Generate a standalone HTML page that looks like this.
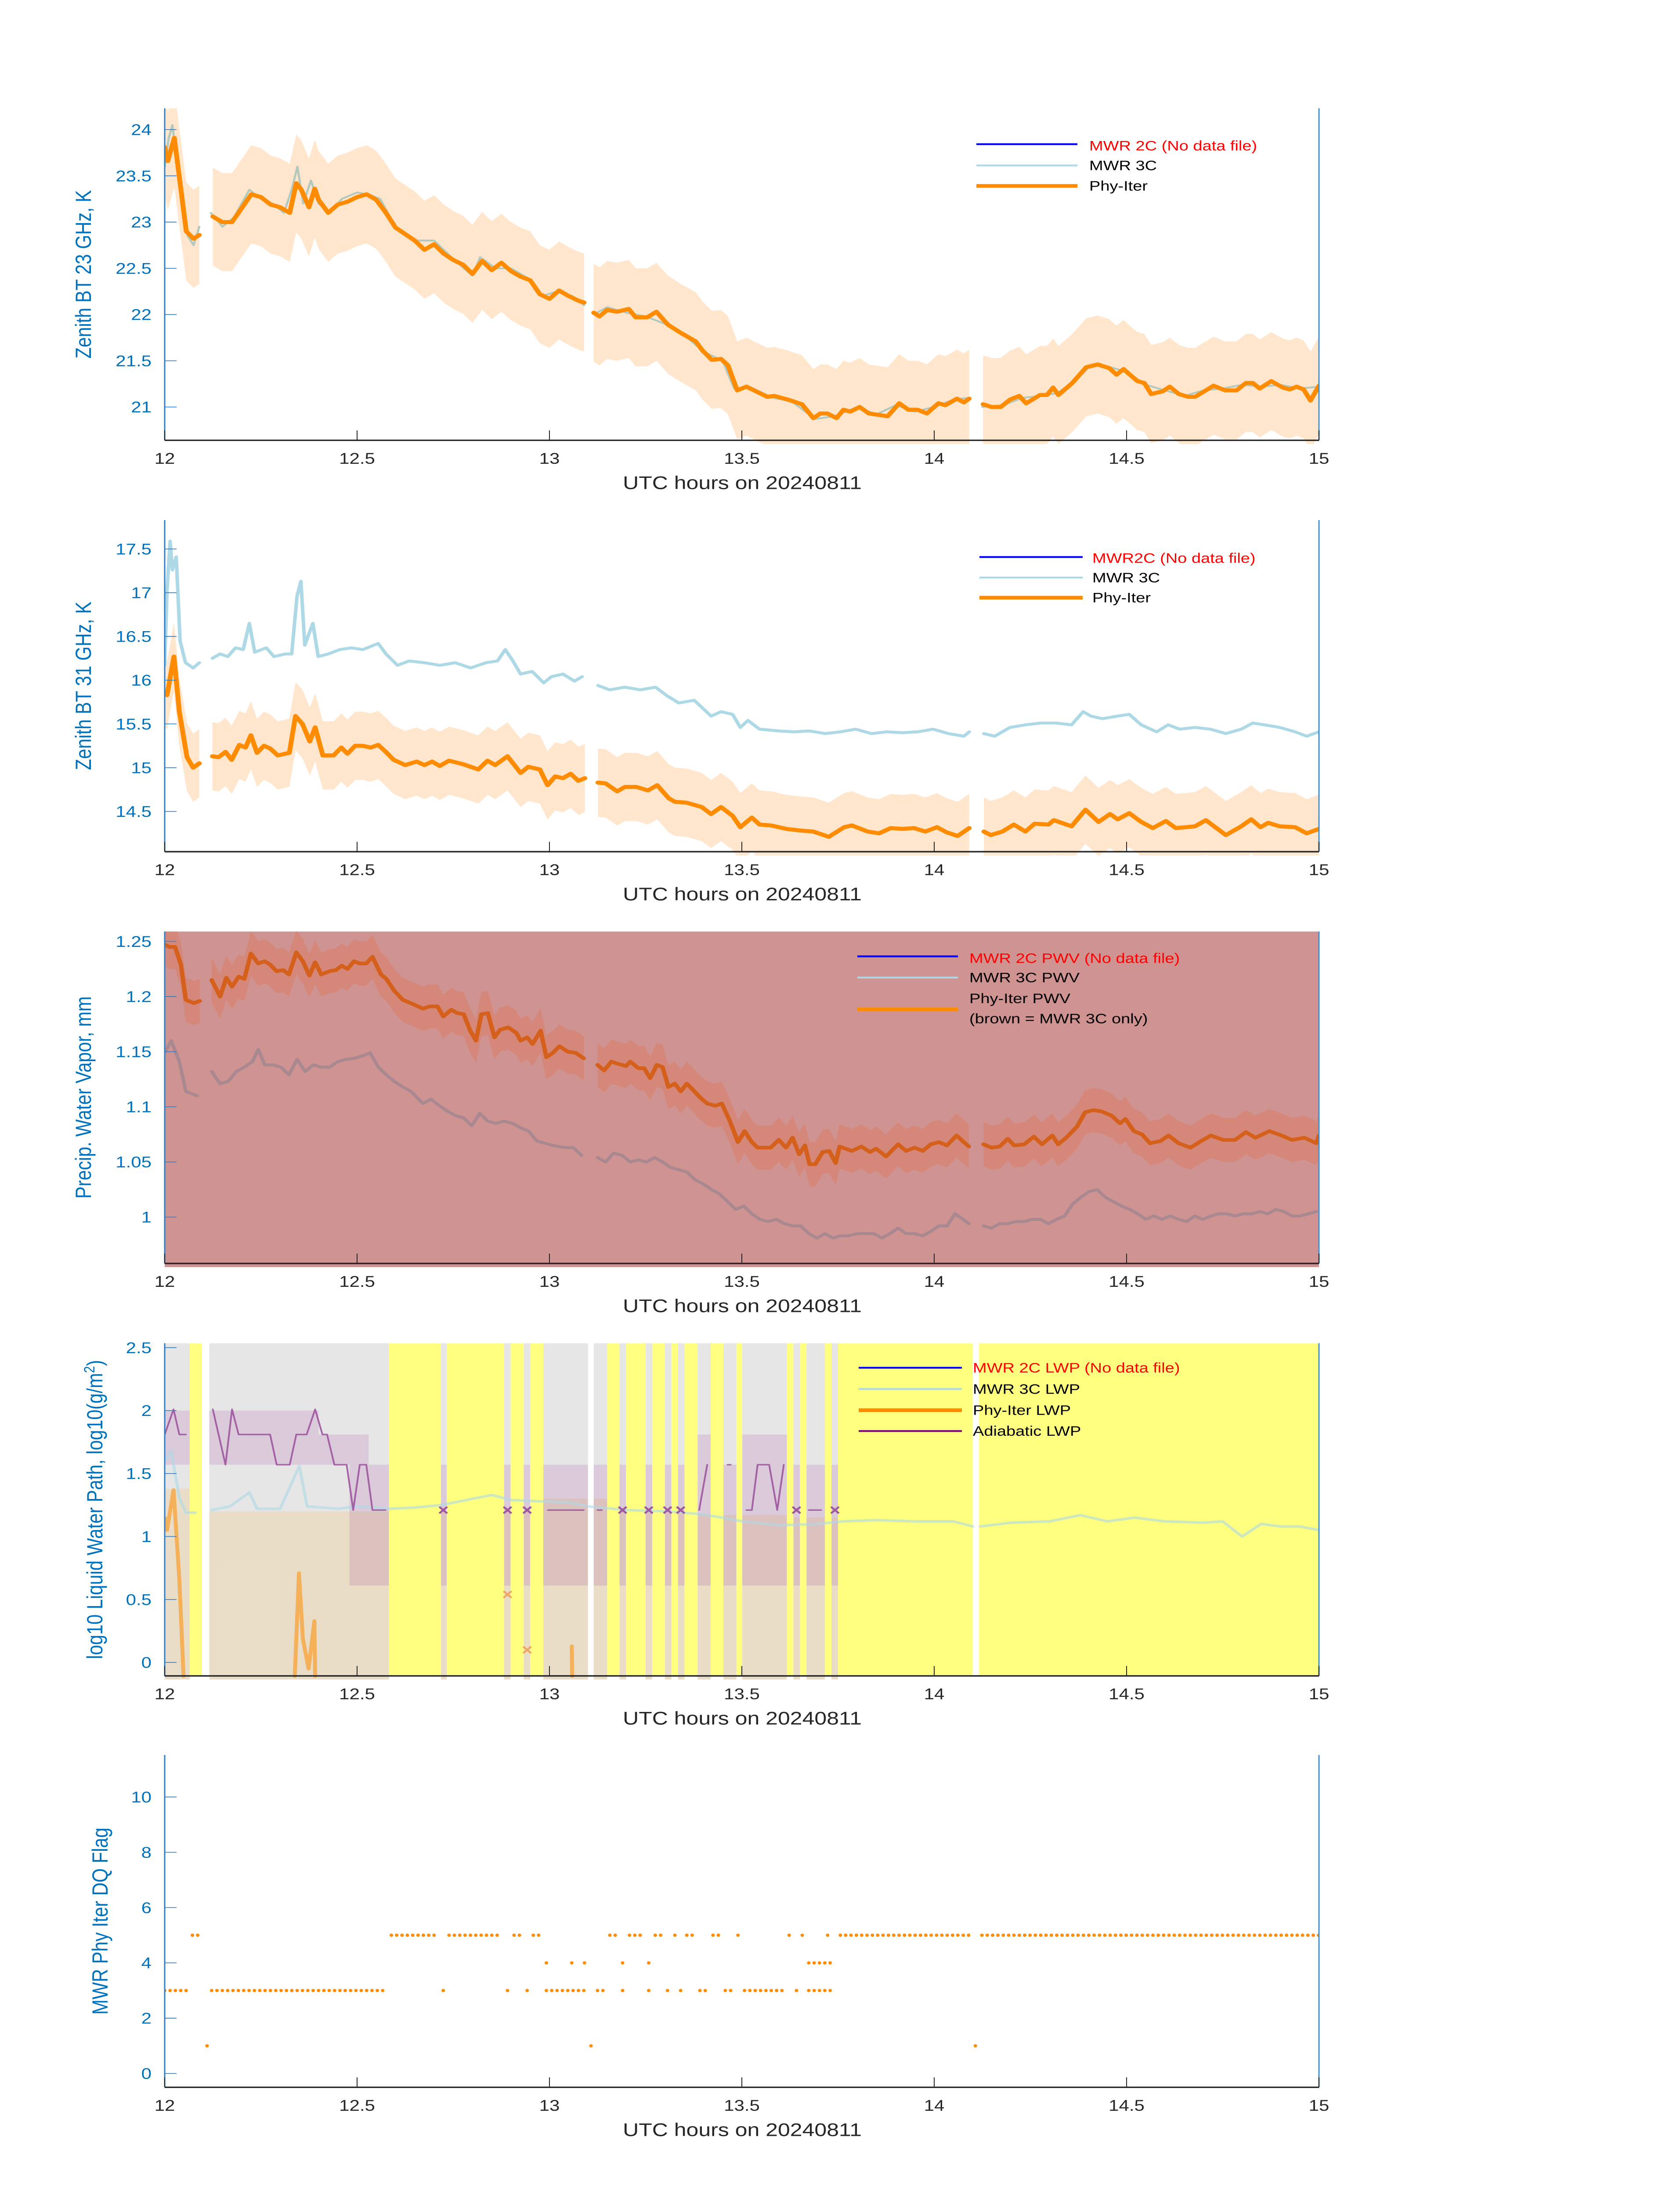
<!DOCTYPE html>
<html><head><meta charset="utf-8">
<style>
html,body{margin:0;padding:0;background:#fff;width:100%;height:100%;overflow:hidden;}
svg{display:block;position:fixed;left:0;top:0;width:100vw;height:100vh;font-family:"Liberation Sans",sans-serif;}
</style></head>
<body>
<svg id="fig" xmlns="http://www.w3.org/2000/svg" viewBox="0 0 3825 6000" preserveAspectRatio="none">
<rect width="3825" height="6000" fill="#ffffff"/>
</svg>
<script>
// ---------- DATA ----------
const xTicks=[12,12.5,13,13.5,14,14.5,15];
const p1Ticks=[21,21.5,22,22.5,23,23.5,24];
const p2Ticks=[14.5,15,15.5,16,16.5,17,17.5];
const p3Ticks=[1,1.05,1.1,1.15,1.2,1.25];
const p4Ticks=[0,0.5,1,1.5,2,2.5];
const p5Ticks=[0,2,4,6,8,10];

const p1Phy=[[12.0,23.81],[12.008,23.66],[12.025,23.91],[12.056,22.9],[12.075,22.82],[12.09,22.86],null,
[12.125,23.06],[12.15,23.0],[12.175,23.0],[12.2,23.15],[12.225,23.3],[12.25,23.27],[12.275,23.19],[12.3,23.16],[12.325,23.1],[12.342,23.42],[12.355,23.35],[12.375,23.16],[12.39,23.36],[12.4,23.24],[12.425,23.1],[12.45,23.19],[12.475,23.22],[12.5,23.27],[12.525,23.3],[12.55,23.24],[12.575,23.1],[12.6,22.94],[12.625,22.87],[12.65,22.8],[12.675,22.7],[12.7,22.76],[12.725,22.66],[12.75,22.59],[12.775,22.54],[12.8,22.44],[12.825,22.58],[12.85,22.48],[12.875,22.56],[12.9,22.47],[12.925,22.41],[12.95,22.37],[12.975,22.22],[13.0,22.17],[13.025,22.26],[13.05,22.2],[13.075,22.15],[13.09,22.13],null,
[13.115,22.02],[13.13,21.98],[13.15,22.05],[13.175,22.03],[13.206,22.06],[13.224,21.97],[13.254,21.97],[13.278,22.03],[13.308,21.89],[13.338,21.81],[13.38,21.71],[13.398,21.61],[13.422,21.51],[13.446,21.52],[13.464,21.45],[13.488,21.18],[13.512,21.22],[13.566,21.11],[13.584,21.12],[13.62,21.08],[13.656,21.03],[13.686,20.88],[13.704,20.93],[13.722,20.93],[13.746,20.88],[13.764,20.97],[13.782,20.95],[13.806,21.0],[13.83,20.93],[13.879,20.9],[13.909,21.04],[13.933,20.97],[13.957,20.97],[13.981,20.93],[14.011,21.04],[14.029,21.02],[14.059,21.09],[14.077,21.05],[14.091,21.09],null,
[14.127,21.03],[14.149,21.0],[14.173,21.0],[14.197,21.08],[14.221,21.12],[14.239,21.04],[14.275,21.13],[14.293,21.13],[14.309,21.21],[14.323,21.13],[14.359,21.26],[14.395,21.43],[14.425,21.46],[14.455,21.42],[14.474,21.35],[14.492,21.41],[14.528,21.28],[14.546,21.26],[14.564,21.14],[14.594,21.17],[14.612,21.22],[14.636,21.14],[14.66,21.11],[14.678,21.11],[14.702,21.17],[14.726,21.23],[14.756,21.18],[14.786,21.18],[14.81,21.26],[14.828,21.26],[14.846,21.2],[14.876,21.28],[14.906,21.21],[14.924,21.19],[14.942,21.22],[14.96,21.19],[14.978,21.07],[15.0,21.23]];

const p1MWR3C=[[12.0,23.6],[12.01,23.9],[12.02,24.05],[12.03,23.7],[12.045,23.2],[12.06,22.85],[12.075,22.75],[12.09,22.95],null,
[12.12,23.1],[12.15,22.95],[12.18,23.05],[12.2,23.2],[12.22,23.35],[12.25,23.25],[12.28,23.2],[12.31,23.1],[12.33,23.35],[12.345,23.6],[12.36,23.2],[12.38,23.45],[12.4,23.2],[12.43,23.1],[12.46,23.25],[12.5,23.32],[12.53,23.3],[12.56,23.25],[12.6,22.95],[12.65,22.8],[12.7,22.8],[12.75,22.6],[12.8,22.42],[12.82,22.62],[12.86,22.5],[12.9,22.5],[12.95,22.38],[12.98,22.2],[13.02,22.25],[13.06,22.2],[13.09,22.1],null,
[13.115,22.0],[13.15,22.08],[13.2,22.02],[13.25,21.98],[13.3,21.9],[13.35,21.78],[13.4,21.6],[13.45,21.5],[13.48,21.2],[13.52,21.22],[13.58,21.1],[13.63,21.06],[13.69,20.87],[13.74,20.9],[13.8,21.0],[13.85,20.92],[13.9,21.02],[13.95,20.95],[14.0,21.0],[14.05,21.08],[14.09,21.1],null,
[14.125,21.0],[14.18,21.02],[14.23,21.1],[14.28,21.12],[14.32,21.15],[14.37,21.3],[14.41,21.46],[14.45,21.44],[14.5,21.38],[14.55,21.24],[14.6,21.18],[14.65,21.12],[14.7,21.18],[14.75,21.2],[14.8,21.24],[14.85,21.22],[14.9,21.24],[14.95,21.2],[15.0,21.22]];

const p2Phy=[[12.0,15.84],[12.006,15.83],[12.024,16.27],[12.038,15.64],[12.058,15.12],[12.074,15.0],[12.09,15.05],null,
[12.124,15.13],[12.14,15.12],[12.158,15.18],[12.174,15.09],[12.194,15.26],[12.21,15.23],[12.224,15.37],[12.24,15.17],[12.258,15.25],[12.274,15.22],[12.294,15.14],[12.324,15.17],[12.34,15.59],[12.358,15.5],[12.377,15.3],[12.391,15.46],[12.411,15.14],[12.439,15.14],[12.459,15.23],[12.475,15.16],[12.495,15.25],[12.515,15.25],[12.535,15.23],[12.555,15.26],[12.575,15.18],[12.595,15.09],[12.625,15.03],[12.655,15.07],[12.675,15.03],[12.695,15.07],[12.715,15.02],[12.739,15.08],[12.775,15.04],[12.815,14.98],[12.839,15.08],[12.859,15.03],[12.891,15.13],[12.925,14.94],[12.945,15.01],[12.975,14.98],[12.995,14.8],[13.015,14.9],[13.035,14.88],[13.055,14.93],[13.075,14.85],[13.092,14.88],null,
[13.126,14.83],[13.146,14.82],[13.176,14.73],[13.196,14.78],[13.226,14.78],[13.256,14.74],[13.28,14.8],[13.31,14.65],[13.326,14.61],[13.356,14.6],[13.396,14.55],[13.42,14.47],[13.446,14.55],[13.476,14.45],[13.496,14.32],[13.526,14.43],[13.546,14.35],[13.576,14.34],[13.616,14.3],[13.656,14.28],[13.686,14.27],[13.726,14.21],[13.766,14.32],[13.786,14.34],[13.827,14.27],[13.857,14.25],[13.887,14.31],[13.917,14.3],[13.947,14.31],[13.977,14.27],[14.007,14.32],[14.033,14.26],[14.061,14.22],[14.091,14.31],null,
[14.129,14.27],[14.147,14.23],[14.177,14.27],[14.207,14.35],[14.237,14.27],[14.261,14.36],[14.297,14.35],[14.311,14.4],[14.357,14.33],[14.393,14.52],[14.427,14.38],[14.457,14.47],[14.477,14.41],[14.507,14.48],[14.538,14.38],[14.568,14.31],[14.602,14.39],[14.628,14.31],[14.678,14.33],[14.706,14.4],[14.758,14.23],[14.798,14.33],[14.824,14.41],[14.848,14.32],[14.868,14.37],[14.898,14.33],[14.938,14.32],[14.968,14.25],[15.0,14.3]];

const p2MWR3C=[[12.0,16.17],[12.006,17.03],[12.014,17.59],[12.02,17.26],[12.03,17.41],[12.04,16.45],[12.054,16.2],[12.074,16.14],[12.09,16.2],null,
[12.124,16.25],[12.144,16.3],[12.164,16.27],[12.184,16.37],[12.204,16.35],[12.22,16.65],[12.234,16.32],[12.264,16.37],[12.284,16.27],[12.314,16.3],[12.33,16.3],[12.344,16.96],[12.354,17.13],[12.364,16.4],[12.385,16.65],[12.399,16.27],[12.425,16.3],[12.455,16.35],[12.485,16.37],[12.515,16.35],[12.555,16.42],[12.575,16.3],[12.605,16.17],[12.635,16.22],[12.675,16.2],[12.715,16.17],[12.755,16.2],[12.795,16.14],[12.835,16.2],[12.865,16.22],[12.885,16.35],[12.905,16.22],[12.925,16.07],[12.955,16.1],[12.985,15.97],[13.005,16.04],[13.035,16.07],[13.065,15.99],[13.085,16.04],null,
[13.126,15.94],[13.156,15.89],[13.196,15.92],[13.236,15.89],[13.276,15.92],[13.306,15.82],[13.336,15.74],[13.376,15.77],[13.396,15.69],[13.42,15.59],[13.446,15.64],[13.476,15.61],[13.496,15.46],[13.516,15.54],[13.546,15.44],[13.596,15.42],[13.636,15.41],[13.676,15.42],[13.716,15.39],[13.756,15.41],[13.796,15.44],[13.837,15.39],[13.877,15.41],[13.917,15.4],[13.957,15.41],[13.997,15.44],[14.037,15.39],[14.077,15.36],[14.091,15.41],null,
[14.129,15.39],[14.157,15.36],[14.197,15.46],[14.237,15.49],[14.277,15.51],[14.317,15.51],[14.357,15.49],[14.387,15.64],[14.407,15.59],[14.437,15.56],[14.477,15.59],[14.507,15.61],[14.538,15.49],[14.578,15.41],[14.608,15.49],[14.638,15.44],[14.678,15.46],[14.718,15.44],[14.758,15.39],[14.798,15.44],[14.828,15.51],[14.858,15.49],[14.898,15.46],[14.938,15.41],[14.968,15.36],[15.0,15.41]];

const p3Phy=[[12.0,1.247],[12.013,1.245],[12.027,1.245],[12.042,1.229],[12.055,1.197],[12.076,1.194],[12.091,1.196],null,
[12.122,1.215],[12.144,1.2],[12.16,1.217],[12.175,1.209],[12.192,1.218],[12.207,1.216],[12.224,1.239],[12.243,1.23],[12.26,1.232],[12.274,1.229],[12.291,1.223],[12.308,1.224],[12.323,1.22],[12.342,1.24],[12.359,1.232],[12.376,1.219],[12.391,1.231],[12.407,1.22],[12.429,1.223],[12.445,1.224],[12.46,1.228],[12.475,1.225],[12.492,1.232],[12.507,1.23],[12.524,1.23],[12.54,1.236],[12.562,1.22],[12.576,1.216],[12.597,1.205],[12.619,1.197],[12.64,1.194],[12.671,1.189],[12.688,1.191],[12.709,1.191],[12.724,1.182],[12.745,1.188],[12.76,1.185],[12.777,1.184],[12.794,1.169],[12.809,1.16],[12.823,1.184],[12.84,1.185],[12.857,1.163],[12.872,1.17],[12.893,1.172],[12.914,1.167],[12.925,1.16],[12.942,1.163],[12.956,1.157],[12.977,1.169],[12.992,1.145],[13.009,1.149],[13.026,1.155],[13.047,1.15],[13.068,1.149],[13.089,1.144],null,
[13.125,1.138],[13.142,1.133],[13.161,1.141],[13.178,1.139],[13.199,1.137],[13.21,1.141],[13.231,1.135],[13.246,1.135],[13.262,1.126],[13.279,1.138],[13.294,1.136],[13.309,1.118],[13.326,1.121],[13.341,1.114],[13.357,1.121],[13.374,1.115],[13.393,1.108],[13.41,1.103],[13.431,1.101],[13.448,1.103],[13.469,1.087],[13.49,1.068],[13.507,1.078],[13.526,1.068],[13.541,1.063],[13.575,1.063],[13.596,1.07],[13.615,1.063],[13.632,1.072],[13.649,1.057],[13.664,1.065],[13.676,1.048],[13.691,1.048],[13.71,1.059],[13.727,1.06],[13.744,1.049],[13.754,1.064],[13.786,1.06],[13.811,1.064],[13.833,1.059],[13.849,1.062],[13.875,1.055],[13.906,1.066],[13.927,1.06],[13.949,1.063],[13.97,1.06],[13.991,1.066],[14.012,1.068],[14.033,1.065],[14.058,1.074],[14.09,1.064],null,
[14.128,1.066],[14.149,1.063],[14.17,1.064],[14.191,1.071],[14.208,1.065],[14.234,1.066],[14.259,1.073],[14.28,1.066],[14.307,1.074],[14.322,1.066],[14.343,1.072],[14.371,1.082],[14.392,1.095],[14.413,1.097],[14.434,1.096],[14.461,1.092],[14.483,1.085],[14.497,1.089],[14.519,1.078],[14.54,1.075],[14.561,1.067],[14.588,1.069],[14.609,1.074],[14.635,1.067],[14.666,1.063],[14.694,1.069],[14.719,1.074],[14.751,1.07],[14.782,1.07],[14.81,1.077],[14.835,1.072],[14.871,1.078],[14.903,1.074],[14.93,1.07],[14.962,1.072],[14.993,1.067],[15.0,1.074]];

const p3MWR3C=[[12.0,1.149],[12.017,1.16],[12.038,1.141],[12.055,1.114],[12.07,1.112],[12.084,1.11],null,
[12.122,1.132],[12.144,1.121],[12.165,1.123],[12.186,1.132],[12.207,1.136],[12.228,1.141],[12.243,1.152],[12.26,1.138],[12.281,1.138],[12.302,1.136],[12.323,1.129],[12.344,1.143],[12.365,1.132],[12.386,1.138],[12.407,1.136],[12.429,1.136],[12.45,1.141],[12.471,1.143],[12.492,1.144],[12.513,1.146],[12.534,1.149],[12.555,1.136],[12.576,1.129],[12.597,1.123],[12.619,1.118],[12.64,1.114],[12.671,1.103],[12.692,1.107],[12.714,1.101],[12.735,1.096],[12.756,1.092],[12.777,1.09],[12.798,1.083],[12.819,1.094],[12.84,1.087],[12.861,1.085],[12.882,1.087],[12.904,1.085],[12.925,1.081],[12.946,1.078],[12.967,1.069],[12.988,1.067],[13.009,1.065],[13.041,1.063],[13.062,1.063],[13.083,1.056],null,
[13.125,1.054],[13.146,1.05],[13.167,1.058],[13.189,1.056],[13.21,1.05],[13.231,1.052],[13.252,1.05],[13.273,1.054],[13.294,1.05],[13.315,1.045],[13.336,1.043],[13.357,1.041],[13.378,1.034],[13.4,1.03],[13.421,1.025],[13.442,1.021],[13.463,1.014],[13.484,1.007],[13.505,1.01],[13.526,1.003],[13.547,0.998],[13.568,0.996],[13.59,0.998],[13.611,0.994],[13.632,0.992],[13.653,0.992],[13.674,0.985],[13.695,0.981],[13.716,0.985],[13.737,0.981],[13.754,0.983],[13.775,0.983],[13.801,0.985],[13.822,0.985],[13.843,0.985],[13.864,0.981],[13.885,0.985],[13.906,0.99],[13.927,0.985],[13.949,0.985],[13.97,0.983],[13.991,0.987],[14.012,0.992],[14.033,0.992],[14.054,1.003],[14.075,0.998],[14.09,0.994],null,
[14.128,0.992],[14.149,0.99],[14.17,0.994],[14.191,0.994],[14.212,0.996],[14.234,0.996],[14.255,0.998],[14.276,0.998],[14.297,0.994],[14.318,0.998],[14.339,1.001],[14.36,1.012],[14.381,1.018],[14.402,1.023],[14.423,1.025],[14.445,1.018],[14.466,1.014],[14.487,1.01],[14.508,1.007],[14.529,1.003],[14.55,0.998],[14.571,1.001],[14.592,0.998],[14.613,1.001],[14.635,0.998],[14.656,0.996],[14.677,1.001],[14.698,0.998],[14.719,1.001],[14.74,1.003],[14.761,1.003],[14.782,1.001],[14.803,1.003],[14.825,1.003],[14.846,1.005],[14.867,1.003],[14.888,1.007],[14.909,1.005],[14.93,1.001],[14.951,1.001],[14.972,1.003],[14.993,1.005]];

// Panel 4
const p4Gray=[[12.0,12.065],[12.116,12.583],[12.718,12.733],[12.882,12.899],[12.933,12.95],[12.984,13.1],[13.115,13.15],[13.182,13.199],[13.25,13.267],[13.3,13.317],[13.334,13.351],[13.385,13.419],[13.452,13.486],[13.501,13.617],[13.634,13.651],[13.668,13.716],[13.733,13.75]];
const p4Yellow=[[12.065,12.097],[12.583,12.718],[12.733,12.882],[12.899,12.933],[12.95,12.984],[13.15,13.182],[13.199,13.25],[13.267,13.3],[13.317,13.334],[13.351,13.385],[13.419,13.452],[13.486,13.501],[13.617,13.634],[13.651,13.668],[13.716,13.733],[13.75,14.1],[14.116,15.0]];
const p4AdiaBand=[[12.0,12.065,1.57,2.0],[12.116,12.4,1.57,2.0],[12.4,12.48,1.57,1.81],[12.48,12.53,0.61,1.81],[12.53,12.583,0.61,1.57],[12.718,12.733,0.61,1.57],[12.882,12.899,0.61,1.57],[12.933,12.95,0.61,1.57],[12.984,13.1,0.61,1.57],[13.115,13.15,0.61,1.57],[13.182,13.199,0.61,1.57],[13.25,13.267,0.61,1.57],[13.3,13.317,0.61,1.57],[13.334,13.351,0.61,1.57],[13.385,13.419,0.61,1.81],[13.452,13.486,0.61,1.57],[13.501,13.617,0.61,1.81],[13.634,13.651,0.61,1.57],[13.668,13.716,0.61,1.57],[13.733,13.75,0.61,1.57]];
const p4PhyBandTop=[[12.0,12.065,1.38],[12.116,12.583,1.2],[12.718,12.733,1.2],[12.882,12.899,1.2],[12.933,12.95,1.2],[12.984,13.1,1.3],[13.115,13.15,1.3],[13.182,13.199,1.2],[13.25,13.267,1.2],[13.3,13.317,1.2],[13.334,13.351,1.2],[13.385,13.419,1.18],[13.452,13.486,1.17],[13.501,13.617,1.17],[13.634,13.651,1.15],[13.668,13.716,1.15],[13.733,13.75,1.15]];
const p4Adia=[[12.0,1.81],[12.023,2.01],[12.038,1.81],[12.055,1.81],null,
[12.125,2.01],[12.158,1.57],[12.175,2.01],[12.192,1.81],[12.274,1.81],[12.291,1.57],[12.325,1.57],[12.342,1.81],[12.369,1.81],[12.391,2.01],[12.41,1.81],[12.422,1.81],[12.441,1.57],[12.473,1.57],[12.49,1.21],[12.507,1.57],[12.524,1.57],[12.54,1.21],[12.574,1.21],null,
[12.996,1.21],[13.089,1.21],null,[13.125,1.21],[13.136,1.21],null,
[13.389,1.21],[13.41,1.57],null,[13.463,1.57],[13.471,1.57],null,
[13.512,1.21],[13.526,1.21],[13.541,1.57],[13.571,1.57],[13.592,1.21],[13.609,1.57],null,
[13.674,1.21],[13.706,1.21]];
const p4AdiaX=[[12.724,1.21],[12.891,1.21],[12.942,1.21],[13.19,1.21],[13.258,1.21],[13.307,1.21],[13.341,1.21],[13.642,1.21],[13.742,1.21]];
const p4Phy=[[12.0,1.15],[12.006,1.05],[12.023,1.37],[12.038,0.66],[12.049,-0.11],null,
[12.338,-0.11],[12.349,0.71],[12.359,0.19],[12.374,-0.05],[12.389,0.33],[12.391,-0.11],null,
[13.058,0.13],[13.059,-0.11]];
const p4PhyX=[[12.891,0.54],[12.942,0.1]];
const p4MWR3C=[[12.0,1.6],[12.017,1.68],[12.027,1.5],[12.038,1.31],[12.055,1.19],[12.08,1.19],null,
[12.122,1.21],[12.17,1.24],[12.22,1.35],[12.24,1.22],[12.3,1.22],[12.35,1.56],[12.37,1.24],[12.45,1.22],[12.5,1.24],[12.583,1.22],[12.65,1.23],[12.72,1.25],[12.8,1.3],[12.85,1.33],[12.9,1.29],[12.97,1.28],[13.05,1.27],[13.1,1.24],[13.2,1.21],[13.3,1.2],[13.385,1.18],[13.45,1.15],[13.5,1.12],[13.6,1.09],[13.7,1.1],[13.76,1.12],[13.85,1.13],[13.95,1.12],[14.05,1.12],[14.1,1.08],null,
[14.12,1.08],[14.2,1.11],[14.3,1.12],[14.38,1.17],[14.45,1.12],[14.52,1.15],[14.6,1.12],[14.7,1.11],[14.75,1.12],[14.8,1.0],[14.85,1.1],[14.9,1.08],[14.95,1.08],[15.0,1.05]];

// Panel 5: runs [start, end, flag]
const dqRuns=[[12.0,12.056,3],[12.072,12.087,5],[12.11,12.11,1],[12.122,12.578,3],[12.589,12.707,5],[12.724,12.724,3],[12.739,12.874,5],[12.891,12.891,3],[12.908,12.925,5],[12.942,12.942,3],[12.958,12.975,5],[12.992,13.094,3],[12.992,12.992,4],[13.058,13.058,4],[13.091,13.091,4],[13.108,13.108,1],[13.125,13.14,3],[13.157,13.174,5],[13.19,13.19,3],[13.19,13.19,4],[13.208,13.241,5],[13.258,13.258,3],[13.258,13.258,4],[13.275,13.292,5],[13.307,13.307,3],[13.326,13.326,5],[13.341,13.341,3],[13.357,13.374,5],[13.391,13.408,3],[13.425,13.442,5],[13.457,13.474,3],[13.49,13.49,5],[13.507,13.609,3],[13.623,13.623,5],[13.642,13.642,3],[13.657,13.657,5],[13.674,13.742,3],[13.674,13.742,4],[13.723,13.723,5],[13.756,14.09,5],[14.107,14.107,1],[14.124,15.0,5]];
const dqStep=1/72;

// ---------- LAYOUT ----------
const X0=375, X1=3003, T0=12, T1=15;
const panels=[
 {id:'p1',top:296,bot:1203,lo:20.64,hi:24.23,ticks:p1Ticks,label:'Zenith BT 23 GHz, K',lx:207,right:true},
 {id:'p2',top:1421,bot:2327,lo:14.04,hi:17.83,ticks:p2Ticks,label:'Zenith BT 31 GHz, K',lx:207,right:true},
 {id:'p3',top:2545,bot:3452,lo:0.958,hi:1.259,ticks:p3Ticks,label:'Precip. Water Vapor, mm',lx:207,right:true},
 {id:'p4',top:3670,bot:4579,lo:-0.107,hi:2.535,ticks:p4Ticks,label:'log10 Liquid Water Path, log10(g/m',lx:233,right:true},
 {id:'p5',top:4795,bot:5703,lo:-0.5,hi:11.52,ticks:p5Ticks,label:'MWR Phy Iter DQ Flag',lx:245,right:true}
];
const NS='http://www.w3.org/2000/svg';
const svg=document.getElementById('fig');
function el(tag,attrs,parent){const e=document.createElementNS(NS,tag);for(const k in attrs)e.setAttribute(k,attrs[k]);(parent||svg).appendChild(e);return e;}
const xs=t=>X0+(t-T0)/(T1-T0)*(X1-X0);
function ysOf(p){return v=>p.bot-(v-p.lo)/(p.hi-p.lo)*(p.bot-p.top);}
function segs(pairs){const out=[];let cur=[];for(const q of pairs){if(q===null){if(cur.length)out.push(cur);cur=[];}else cur.push(q);}if(cur.length)out.push(cur);return out;}
function drawLine(g,pairs,ys,color,w,op,name){
 for(const s of segs(pairs)){
  const d=s.map((q,i)=>(i?'L':'M')+xs(q[0]).toFixed(1)+','+ys(q[1]).toFixed(1)).join('');
  const path=el('path',{d:d,fill:'none',stroke:color,'stroke-width':w,'stroke-linejoin':'round','stroke-linecap':'round',opacity:op},g);
  
  
 }
}
function drawBand(g,pairs,ys,hw,color,name){
 for(const s of segs(pairs)){
  const up=s.map(q=>xs(q[0]).toFixed(1)+','+ys(q[1]+hw).toFixed(1));
  const dn=s.slice().reverse().map(q=>xs(q[0]).toFixed(1)+','+ys(q[1]-hw).toFixed(1));
  const poly=el('polygon',{points:up.concat(dn).join(' '),fill:color},g);
  
  
 }
}
function drawX(g,x,y,s,color,w,name){
 const p=el('path',{d:`M${x-s},${y-s}L${x+s},${y+s}M${x-s},${y+s}L${x+s},${y-s}`,stroke:color,'stroke-width':w,fill:'none'},g);
 
 
}

const defs=el('defs',{});
const G={};
panels.forEach(p=>{
 const cp=el('clipPath',{id:'clip-'+p.id},defs);
 el('rect',{x:X0,y:p.top,width:X1-X0,height:p.bot-p.top+10},cp);
 const g=el('g',{});
 
 
 const plot=el('g',{'clip-path':'url(#clip-'+p.id+')'},g);
 
 
 G[p.id]={g:g,plot:plot,ys:ysOf(p),p:p};
});

// ---------- PANEL 1 ----------
(()=>{const {plot,ys}=G.p1;
 drawBand(plot,p1Phy,ys,0.53,'#ffe6cc','phy-iter-uncertainty-band');
 drawLine(plot,p1MWR3C,ys,'#b3c9bd',5,1,'mwr-3c-line');
 drawLine(plot,p1Phy,ys,'#ff8c00',11,1,'phy-iter-line');
})();
// ---------- PANEL 2 ----------
(()=>{const {plot,ys}=G.p2;
 drawBand(plot,p2Phy,ys,0.39,'#ffe6cc','phy-iter-uncertainty-band');
 drawLine(plot,p2MWR3C,ys,'#add8e6',8,1,'mwr-3c-line');
 drawLine(plot,p2Phy,ys,'#ff8c00',11,1,'phy-iter-line');
})();
// ---------- PANEL 3 ----------
(()=>{const {plot,ys,p}=G.p3;
 const bg=el('rect',{x:X0,y:p.top,width:X1-X0,height:p.bot-p.top+10,fill:'#cf9392'},plot);
 
 
 drawBand(plot,p3Phy,ys,0.02,'#d5887a','phy-iter-uncertainty-band');
 drawLine(plot,p3MWR3C,ys,'#a98890',8,1,'mwr-3c-pwv-line');
 drawLine(plot,p3Phy,ys,'#d4601c',10,1,'phy-iter-pwv-line');
})();
// ---------- PANEL 4 ----------
(()=>{const {plot,ys,p}=G.p4;
 p4Gray.forEach(r=>{const e=el('rect',{x:xs(r[0]),y:p.top,width:xs(r[1])-xs(r[0]),height:p.bot-p.top+10,fill:'#e6e6e6'},plot);
  
  });
 p4PhyBandTop.forEach(r=>{const e=el('rect',{x:xs(r[0]),y:ys(r[2]),width:xs(r[1])-xs(r[0]),height:p.bot+10-ys(r[2]),fill:'#ffa500','fill-opacity':0.13},plot);
  
  });
 p4AdiaBand.forEach(r=>{const e=el('rect',{x:xs(r[0]),y:ys(r[3]),width:xs(r[1])-xs(r[0]),height:ys(r[2])-ys(r[3]),fill:'#800080','fill-opacity':0.12},plot);
  
  });
 p4Yellow.forEach(r=>{const e=el('rect',{x:xs(r[0]),y:p.top,width:xs(r[1])-xs(r[0]),height:p.bot-p.top,fill:'#ffff80'},plot);
  
  });
 drawLine(plot,p4MWR3C,ys,'#add8e6',7,0.6,'mwr-3c-lwp-line');
 drawLine(plot,p4Phy,ys,'#ff8c00',9,0.55,'phy-iter-lwp-line');
 drawLine(plot,p4Adia,ys,'#9b4f9b',4,0.85,'adiabatic-lwp-line');
 p4AdiaX.forEach(q=>drawX(plot,xs(q[0]),ys(q[1]),9,'#a0589f',5,'adiabatic-lwp-marker'));
 p4PhyX.forEach(q=>drawX(plot,xs(q[0]),ys(q[1]),9,'#f0a860',5,'phy-iter-lwp-marker'));
})();
// ---------- PANEL 5 ----------
(()=>{const {plot,ys}=G.p5;
 dqRuns.forEach(r=>{
  for(let t=r[0];t<=r[1]+1e-6;t+=dqStep){
   const c=el('ellipse',{cx:xs(t).toFixed(1),cy:ys(r[2]).toFixed(1),rx:4,ry:4.5,fill:'#ff8c00'},plot);
   
   
  }
 });
})();

// ---------- AXES ----------
panels.forEach(p=>{
 const {g,ys}=G[p.id];
 const ax=el('g',{},g);
 
 
 const left=el('line',{x1:X0,y1:p.top,x2:X0,y2:p.bot,stroke:'#2f7fc8','stroke-width':3},ax);
 
 
 if(p.right){const r=el('line',{x1:X1,y1:p.top,x2:X1,y2:p.bot,stroke:'#3f8fd2','stroke-width':3},ax);
  
  }
 const bottom=el('line',{x1:X0,y1:p.bot,x2:X1,y2:p.bot,stroke:'#262626','stroke-width':4},ax);
 
 
 xTicks.forEach(t=>{
  el('line',{x1:xs(t),y1:p.bot,x2:xs(t),y2:p.bot-27,stroke:'#262626','stroke-width':2},ax);
  const tx=el('text',{x:xs(t),y:p.bot+64,'font-size':42,fill:'#262626','text-anchor':'middle'},ax);
  tx.textContent=String(t);
  
  
 });
 p.ticks.forEach(v=>{
  el('line',{x1:X0,y1:ys(v),x2:X0+27,y2:ys(v),stroke:'#2f7fc8','stroke-width':2},ax);
  const tx=el('text',{x:X0-30,y:ys(v)+15,'font-size':42,fill:'#0072bd','text-anchor':'end'},ax);
  tx.textContent=String(v);
  
  
 });
 const xl=el('text',{x:1690,y:p.bot+133,'font-size':50,fill:'#262626','text-anchor':'middle'},ax);
 xl.textContent='UTC hours on 20240811';
 
 
 const cy=(p.top+p.bot)/2;
 const yl=el('text',{x:p.lx,y:cy,'font-size':50,fill:'#0072bd','text-anchor':'middle',transform:`rotate(-90 ${p.lx} ${cy})`},ax);
 
 
 if(p.id==='p4'){yl.textContent=p.label;const sup=el('tspan',{dy:-18,'font-size':34},yl);sup.textContent='2';const cl=el('tspan',{dy:18},yl);cl.textContent=')';}
 else yl.textContent=p.label;
});

// ---------- LEGENDS ----------
function legend(pid,x1,x2,tx,rows){
 const lg=el('g',{},G[pid].g);
 
 
 rows.forEach(r=>{
  if(r.color){const l=el('line',{x1:x1,y1:r.ly,x2:x2,y2:r.ly,stroke:r.color,'stroke-width':r.w},lg);
   
   }
  const t=el('text',{x:tx,y:r.ty+13,'font-size':38,fill:r.tc||'#000'},lg);
  t.textContent=r.text;
  
  
 });
}
legend('p1',2223,2453,2480,[
 {color:'#0000ff',w:5,ly:394,ty:398,text:'MWR 2C (No data file)',tc:'#ff0000'},
 {color:'#add8e6',w:5,ly:452,ty:452,text:'MWR 3C'},
 {color:'#ff8c00',w:10,ly:508,ty:508,text:'Phy-Iter'}]);
legend('p2',2230,2465,2487,[
 {color:'#0000ff',w:5,ly:1522,ty:1525,text:'MWR2C (No data file)',tc:'#ff0000'},
 {color:'#add8e6',w:5,ly:1578,ty:1578,text:'MWR 3C'},
 {color:'#ff8c00',w:10,ly:1633,ty:1633,text:'Phy-Iter'}]);
legend('p3',1952,2181,2207,[
 {color:'#0000ff',w:5,ly:2613,ty:2618,text:'MWR 2C PWV (No data file)',tc:'#ff0000'},
 {color:'#add8e6',w:5,ly:2671,ty:2671,text:'MWR 3C PWV'},
 {color:'#ff8c00',w:10,ly:2758,ty:2728,text:'Phy-Iter PWV'},
 {color:null,ty:2783,text:'(brown = MWR 3C only)'}]);
legend('p4',1955,2190,2215,[
 {color:'#0000ff',w:5,ly:3737,ty:3737,text:'MWR 2C LWP (No data file)',tc:'#ff0000'},
 {color:'#add8e6',w:5,ly:3795,ty:3795,text:'MWR 3C LWP'},
 {color:'#ff8c00',w:10,ly:3853,ty:3853,text:'Phy-Iter LWP'},
 {color:'#800080',w:5,ly:3910,ty:3910,text:'Adiabatic LWP'}]);
</script>
</body></html>
